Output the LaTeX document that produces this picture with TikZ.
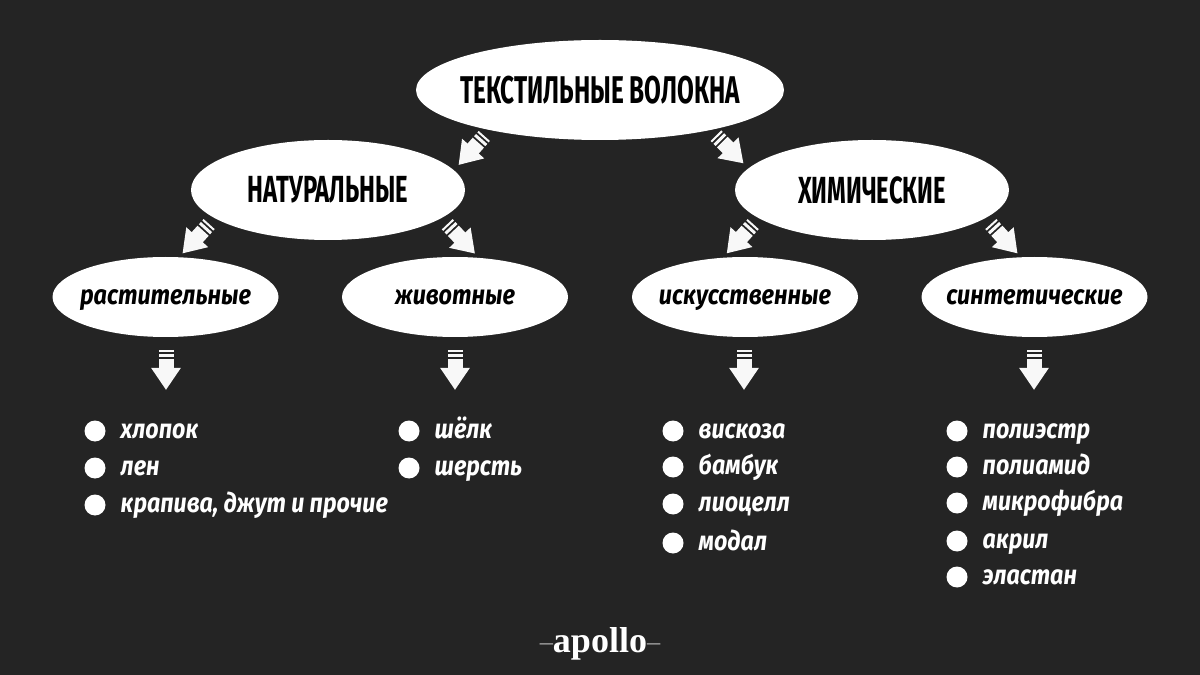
\documentclass[tikz,border=0pt]{standalone}
\usepackage{fontspec}
\usetikzlibrary{arrows.meta,positioning,shapes.geometric}
\setmainfont{Liberation Serif}
\newfontfamily\capsfont[FakeStretch=0.63]{Fira Sans}
\newfontfamily\handfont[FakeStretch=0.86]{Fira Sans}
\newcommand{\handtext}[1]{\makebox[0pt]{#1}}
\newcommand{\logodash}{\raisebox{1pt}{\fontsize{15}{15}\selectfont\color{white!60!boardgrey}--}}
\definecolor{boardgrey}{HTML}{242424}
\definecolor{arrowwhite}{HTML}{F8F8F8}
\tikzset{
  ovalbase/.style={ellipse,fill=white,inner sep=0pt,text=black},
  rootoval/.style={ovalbase,minimum width=368*0.02cm,minimum height=100*0.02cm,
    font=\capsfont\bfseries\fontsize{22}{24}\selectfont},
  branchoval/.style={ovalbase,minimum width=274*0.02cm,minimum height=100*0.02cm,
    font=\capsfont\bfseries\fontsize{21.5}{24}\selectfont},
  kindoval/.style={ovalbase,minimum width=226*0.02cm,minimum height=80*0.02cm,
    text height=11pt,text depth=3pt,
    font=\handfont\bfseries\itshape\fontsize{15.5}{18}\selectfont},
  bulletdot/.style={circle,fill=white,inner sep=0pt,minimum size=21*0.02cm},
  itemtext/.style={text=white,inner sep=0pt,text height=11.8pt,text depth=3pt,
    font=\handfont\bfseries\itshape\fontsize{15.4}{18}\selectfont},
  blockarrow/.style={draw=arrowwhite,line width=15*0.02cm,
    dash pattern=on 2*0.02cm off 2*0.02cm on 3*0.02cm off 2*0.02cm on 200*0.02cm,
    -{Triangle[length=22*0.02cm,width=28*0.02cm,fill=arrowwhite]}},
}
\begin{document}
\begin{tikzpicture}[x=0.02cm,y=-0.02cm]

\useasboundingbox[fill=boardgrey] (0,0) rectangle (1200,675);

\node[rootoval] (root) at (600,90) {\handtext{ТЕКСТИЛЬНЫЕ ВОЛОКНА}};

\node[branchoval] (natural) at (328,190) {\handtext{НАТУРАЛЬНЫЕ}};
\node[branchoval] (chemical) at (872,190) {\handtext{ХИМИЧЕСКИЕ}};

\node[kindoval] (plant) at (165.5,297) {\handtext{растительные}};
\node[kindoval] (animal) at (455,297) {\handtext{животные}};
\node[kindoval] (artificial) at (745,297) {\handtext{искусственные}};
\node[kindoval] (synthetic) at (1034.5,297) {\handtext{синтетические}};

% arrows between the ovals
\foreach \from/\fromangle/\fromgap/\to/\toangle/\togap in {
  root/200.7/7.6/natural/9.2/6.7,
  root/-20.7/7.6/chemical/170.8/6.7,
  natural/194.9/7.8/plant/71.6/4.7,
  natural/-14.7/8.2/animal/59.8/5.4,
  chemical/194.9/7.8/artificial/119.1/5.4,
  chemical/-14.9/7.8/synthetic/109/4.7}
    \draw[blockarrow,shorten <=\fromgap*0.02cm,shorten >=\togap*0.02cm] (\from.\fromangle) -- (\to.\toangle);

% arrows down to the lists
\foreach \name/\x in {plant/166,animal/455,artificial/744,synthetic/1034} {
    \coordinate (\name top) at (\x,350);
    \coordinate (\name bottom) at (\x,390);
    \draw[blockarrow] (\name top) -- (\name bottom);
}

\foreach \n/\x/\y/\itemname in {
  a/95/431/хлопок,
  b/95/468/лен,
  c/95/505/{крапива, джут и прочие},
  d/409/431/шёлк,
  e/409/468/шерсть,
  f/673/431/вискоза,
  g/673/467/бамбук,
  h/673/504/лиоцелл,
  i/673/543/модал,
  j/957/431/полиэстр,
  k/957/467/полиамид,
  l/957/503/микрофибра,
  m/957/541/акрил,
  n/957/577/эластан} {
    \node[bulletdot] (dot\n) at (\x,\y) {};
    \node[itemtext,right=0.29cm of dot\n] (item\n) {\itemname};
}

\node[text=white,font=\fontsize{20.5}{22}\selectfont] (logo) at (600,644) {\logodash\textbf{apollo}\logodash};

\end{tikzpicture}
\end{document}
